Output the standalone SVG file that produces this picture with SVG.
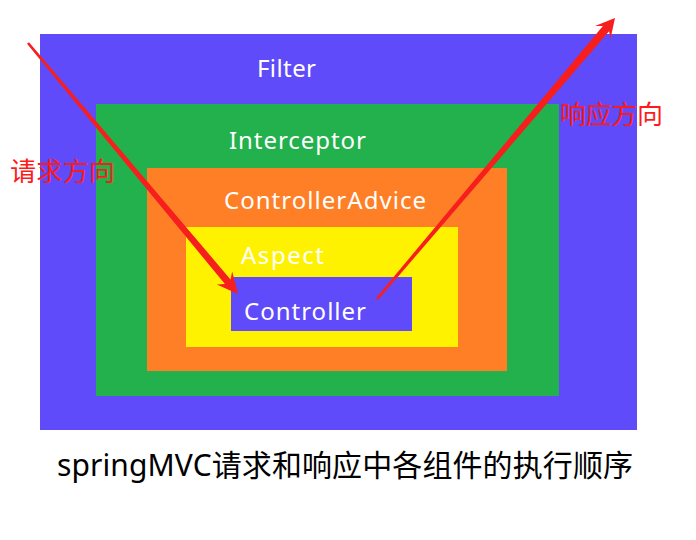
<svg xmlns="http://www.w3.org/2000/svg" width="696" height="540" viewBox="0 0 696 540">
<style>
.lbl{font-family:"Noto Sans","Open Sans","Noto Sans CJK SC",sans-serif;font-size:24px;fill:#ffffff}
.red{font-family:"Noto Sans CJK SC","Noto Sans",sans-serif;font-size:26px;fill:#ff1a1a}
.cap{font-family:"Noto Sans","Noto Sans CJK SC",sans-serif;font-size:30px;fill:#000000}
.arrow{fill:#f71e1e}
</style>
<rect width="696" height="540" fill="#ffffff"/>
<g id="filter">
<rect x="40" y="34" width="597" height="396" fill="#604bfa"/>
<text class="lbl" x="257" y="77" textLength="59">Filter</text>
</g>
<g id="interceptor">
<rect x="96" y="104" width="463" height="292" fill="#22b14c"/>
<text class="lbl" x="229" y="149" textLength="137">Interceptor</text>
</g>
<g id="controlleradvice">
<rect x="147" y="168" width="360" height="203" fill="#ff7f27"/>
<text class="lbl" x="224" y="209" textLength="202">ControllerAdvice</text>
</g>
<g id="aspect">
<rect x="186" y="227" width="272" height="120" fill="#fff200"/>
<text class="lbl" x="241" y="264" textLength="83">Aspect</text>
</g>
<g id="controller">
<rect x="231" y="277" width="181" height="54" fill="#604bfa"/>
<text class="lbl" x="244" y="320" textLength="122">Controller</text>
</g>
<g id="connectors">
<polygon class="arrow" points="27.0,43.8 224.9,284.0 216.8,284.4 238,294 232.2,271.5 230.5,279.4 29.0,42.2"/>
<polygon class="arrow" points="378.1,299.8 609.1,31.3 610.4,39.0 615,18 595.0,26.0 602.9,26.1 375.9,298.2"/>
</g>
<text class="red" x="10" y="181" textLength="105">请求方向</text>
<text class="red" x="560" y="124" textLength="103">响应方向</text>
<text class="cap" x="57" y="476" textLength="576">springMVC请求和响应中各组件的执行顺序</text>
</svg>
